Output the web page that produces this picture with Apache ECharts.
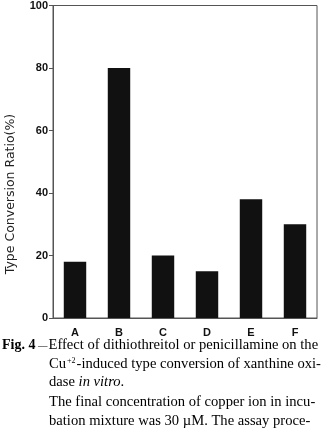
<!DOCTYPE html>
<html lang="en">
<head>
    <meta charset="UTF-8">
    <title>Fig. 4</title>
    <script src="https://cdn.jsdelivr.net/npm/echarts@6/dist/echarts.min.js"></script>
    <style>
        html, body { margin: 0; padding: 0; background: #fff; }
    </style>
</head>
<body>
<div id="chart" style="width: 324px;height: 433px"></div>
<script type="text/javascript">
    // data
    var categories = ['A', 'B', 'C', 'D', 'E', 'F'];
    var conversionRatio = [18, 80, 20, 15, 38, 30];
    var yTicks = [0, 20, 40, 60, 80, 100];

    var serif = '"Liberation Serif", "DejaVu Serif", serif';
    var fs = 14.6;
    var capRich = {
        b: { fontFamily: serif, fontSize: 14, fontWeight: 'bold', color: '#222' },
        n: { fontFamily: serif, fontSize: fs, color: '#222' },
        d: { fontFamily: serif, fontSize: 9.5, color: '#222' },
        i: { fontFamily: serif, fontSize: fs, fontStyle: 'italic', color: '#222' },
        sup: { fontFamily: serif, fontSize: 8, color: '#444', verticalAlign: 'top', padding: [0, 1, 7, 1] }
    };
    function capLine(x, y, text) {
        return { type: 'text', x: x, y: y, style: { text: text, rich: capRich, verticalAlign: 'middle' } };
    }

    var myChart = echarts.init(document.getElementById('chart'));
    var option = {
        backgroundColor: '#fff',
        animation: false,
        grid: {
            left: 53, right: 7, top: 4, bottom: 115,
            show: true, borderColor: '#555', borderWidth: 1
        },
        xAxis: {
            type: 'category',
            data: categories,
            axisLine: { lineStyle: { color: '#555', width: 1 } },
            axisTick: { show: false },
            axisLabel: {
                margin: 9,
                fontFamily: '"Liberation Sans", Arial, sans-serif',
                fontWeight: 'bold',
                fontSize: 11,
                color: '#111'
            }
        },
        yAxis: {
            type: 'value',
            min: yTicks[0],
            max: yTicks[yTicks.length - 1],
            interval: 20,
            splitLine: { show: false },
            axisLine: { show: true, lineStyle: { color: '#555', width: 1 } },
            axisTick: { show: true, length: 4, lineStyle: { color: '#555' } },
            axisLabel: {
                margin: 5,
                fontFamily: '"Liberation Sans", Arial, sans-serif',
                fontWeight: 'bold',
                fontSize: 11,
                color: '#111'
            }
        },
        series: [{
            type: 'bar',
            data: conversionRatio,
            barWidth: '51%',
            itemStyle: { color: '#111' }
        }],
        graphic: [
            {
                type: 'text', x: 11, y: 194, rotation: Math.PI / 2,
                style: {
                    text: 'Type Conversion Ratio(%)',
                    fontFamily: '"DejaVu Sans", sans-serif',
                    fontSize: 12.5,
                    fill: '#222',
                    align: 'center',
                    verticalAlign: 'middle'
                }
            },
            capLine(2, 345, '{b|Fig. 4}'),
            capLine(38, 346, '{d|\u2014}'),
            capLine(48.5, 345, '{n|Effect of dithiothreitol or penicillamine on the}'),
            capLine(49, 364, '{n|Cu}{sup|+2}{n|-induced type conversion of xanthine oxi-}'),
            capLine(49, 382, '{n|dase }{i|in vitro}{n|.}'),
            capLine(49, 402, '{n|The final concentration of copper ion in incu-}'),
            capLine(49, 421, '{n|bation mixture was 30\u00a0\u00b5M. The assay proce-}')
        ]
    };
    myChart.setOption(option);
</script>
</body>
</html>
